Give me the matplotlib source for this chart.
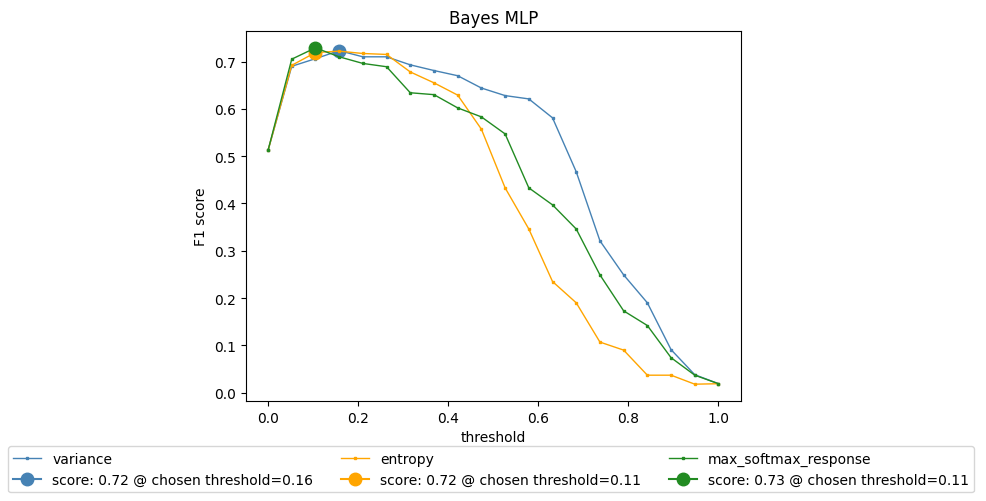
import numpy as np
import matplotlib.pyplot as plt

# thresholds, 20 steps from 0 to 1
thresholds = np.linspace(0, 1, 20)

variance = [0.512, 0.690, 0.706, 0.723, 0.710, 0.710, 0.693, 0.681, 0.670, 0.644,
            0.628, 0.621, 0.581, 0.467, 0.321, 0.249, 0.190, 0.091, 0.038, 0.019]
entropy = [0.512, 0.692, 0.719, 0.722, 0.717, 0.715, 0.678, 0.655, 0.629, 0.557,
           0.433, 0.346, 0.235, 0.190, 0.107, 0.090, 0.037, 0.037, 0.018, 0.019]
max_softmax_response = [0.512, 0.705, 0.729, 0.710, 0.696, 0.689, 0.634, 0.630, 0.602, 0.583,
                        0.547, 0.433, 0.397, 0.346, 0.249, 0.173, 0.142, 0.074, 0.037, 0.019]

names = ['variance', 'entropy', 'max_softmax_response']
colors = ['steelblue', 'orange', 'forestgreen']
best_idx = [3, 2, 2]
best_labels = ['0.16', '0.11', '0.11']

fig = plt.figure(figsize=(9.86, 5.02), dpi=100)
ax = fig.add_axes([245.5 / 986, 100 / 502, 495.5 / 986, 370 / 502])

handles = []
for name, vals, c, bi, bl in zip(names, [variance, entropy, max_softmax_response],
                                 colors, best_idx, best_labels):
    h1, = ax.plot(thresholds, vals, color=c, marker='s', markersize=1.5, linewidth=1, label=name)
    h2, = ax.plot([thresholds[bi]], [vals[bi]], color=c, marker='o', markersize=9,
                  label=f'score: {vals[bi]:.2f} @ chosen threshold={bl}')
    handles += [h1, h2]

ax.set_title('Bayes MLP')
ax.set_xlabel('threshold')
ax.set_ylabel('F1 score')

fig.legend(handles=handles, loc='upper center', bbox_to_anchor=(0.498, 0.123), ncol=3)

fig.savefig('out.png', dpi=100)
